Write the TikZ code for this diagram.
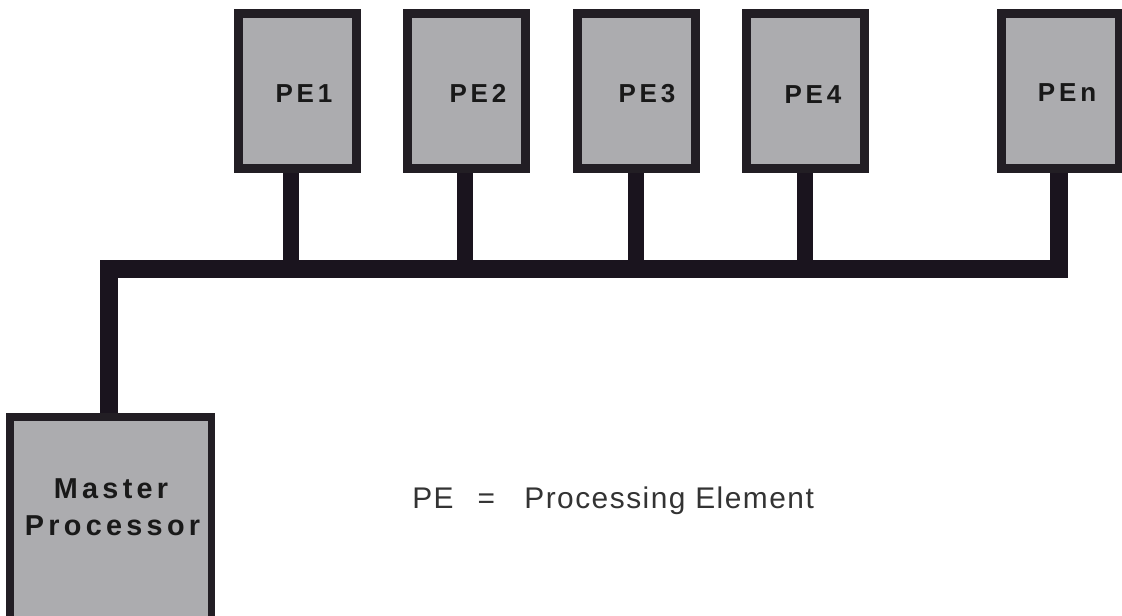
\documentclass[tikz,border=0pt]{standalone}
\usepackage{fontspec}
\setmainfont{Liberation Sans}
\newfontfamily\lblfont{Liberation Sans}[LetterSpace=15]
\newfontfamily\legfont{Liberation Sans}[LetterSpace=5]
\definecolor{boxcol}{RGB}{172,172,175}
\definecolor{edgecol}{RGB}{34,30,36}
\definecolor{buscol}{RGB}{26,20,30}
\begin{document}
\begin{tikzpicture}[x=0.75pt,y=-0.75pt,
  pebox/.style={draw=edgecol, fill=boxcol, line width=4.5pt, minimum width=86.25pt, minimum height=114pt, inner sep=0pt},
  lbl/.style={font=\lblfont\bfseries\fontsize{19.5}{23}\selectfont, inner sep=0pt, text=black!90},
  mlbl/.style={font=\lblfont\bfseries\fontsize{21.6}{25}\selectfont, inner sep=0pt, text=black!90},
  leg/.style={font=\legfont\fontsize{22.4}{26}\selectfont, inner sep=0pt, text=black!80},
  busline/.style={draw=buscol, line width=13.5pt, line join=miter},
  stemline/.style={draw=buscol, line width=12pt}]
\clip (0,0) rectangle (1122,615);
\fill[white] (0,0) rectangle (1122,615);
% boxes
\node[pebox] (PE1) at (297.5,91) {};
\node[pebox] (PE2) at (466.5,91) {};
\node[pebox] (PE3) at (636,91) {};
\node[pebox] (PE4) at (805.5,91) {};
\node[pebox] (PEn) at (1060.5,91) {};
\node[pebox, line width=3.75pt, minimum width=149.25pt, minimum height=166.5pt] (master) at (110.5,529) {};
% bus junctions
\coordinate (jl) at (109,269);
\coordinate (jr) at (1058.5,269);
\coordinate (t1) at (291,269);
\coordinate (t2) at (464.5,269);
\coordinate (t3) at (635.5,269);
\coordinate (t4) at (804.5,269);
% bus and stems
\draw[busline] (jl |- master.north) -- (jl) -- (jr) -- (jr |- PEn.south);
\draw[stemline] (t1 |- PE1.south) -- (t1);
\draw[stemline] (t2 |- PE2.south) -- (t2);
\draw[stemline] (t3 |- PE3.south) -- (t3);
\draw[stemline] (t4 |- PE4.south) -- (t4);
% box outlines on top
\foreach \n in {PE1,PE2,PE3,PE4,PEn}{
  \draw[draw=edgecol, line width=4.5pt] (\n.south west) rectangle (\n.north east);
}
\draw[draw=edgecol, line width=3.75pt] (master.south west) rectangle (master.north east);
% labels
\node[lbl, anchor=base] (l1) at (304,102) {PE1};
\node[lbl, anchor=base] (l2) at (478,102) {PE2};
\node[lbl, anchor=base] (l3) at (647,102) {PE3};
\node[lbl, anchor=base] (l4) at (813,103) {PE4};
\node[lbl, anchor=base] (ln) at (1067,101) {PEn};
\node[mlbl, anchor=base] (m1) at (111,498) {Master};
\node[mlbl, anchor=base] (m2) at (112.5,535) {Processor};
\node[leg, anchor=base west] (legend) at (412,508) {PE\hspace{18pt}=\hspace{22pt}Processing Element};
\end{tikzpicture}
\end{document}
